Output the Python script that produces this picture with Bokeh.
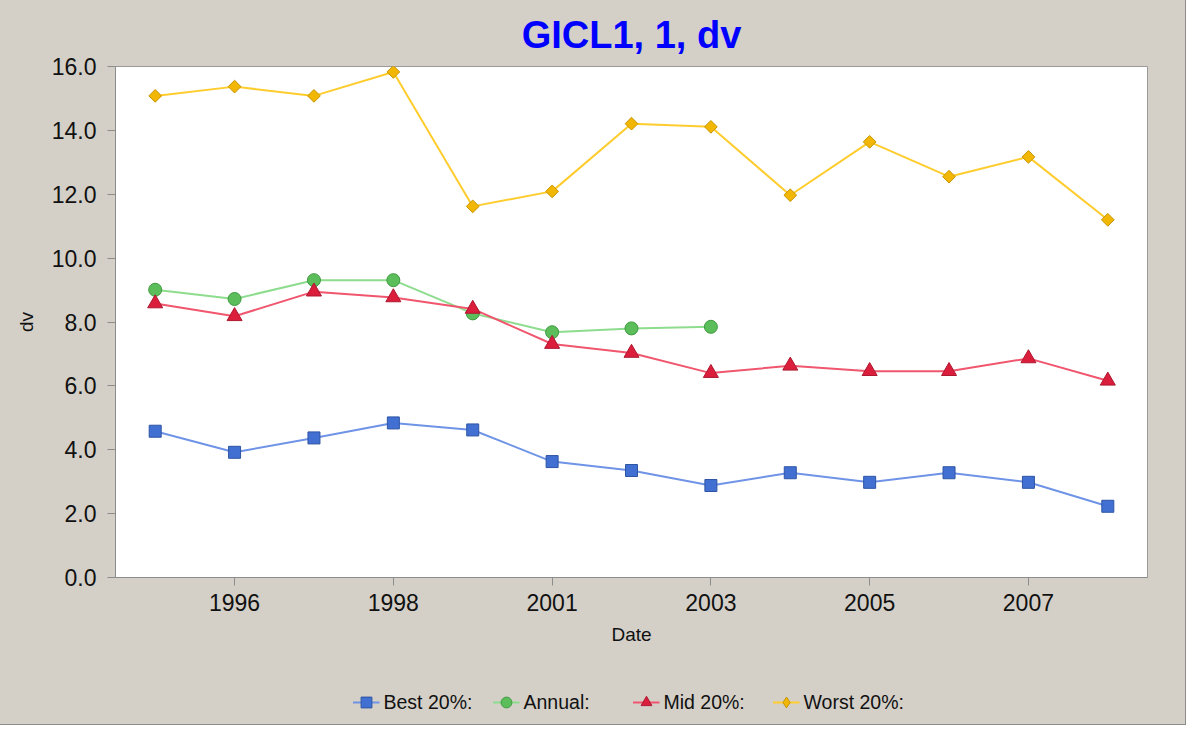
import numpy as np
from bokeh.plotting import figure
from bokeh.layouts import column
from bokeh.models import (ColumnDataSource, FixedTicker, NumeralTickFormatter,
                          Legend, LegendItem, Title, Range1d)
from bokeh.embed import file_html
from bokeh.resources import INLINE

years = ["1995", "1996", "1997", "1998", "1999", "2001", "2002",
         "2003", "2004", "2005", "2006", "2007", "2008"]
best = [4.58, 3.92, 4.37, 4.84, 4.62, 3.63, 3.35, 2.88, 3.28, 2.98, 3.28, 2.98, 2.23]
annual = [9.01, 8.72, 9.31, 9.31, 8.27, 7.68, 7.80, 7.85]
mid = [8.58, 8.18, 8.95, 8.77, 8.41, 7.31, 7.03, 6.40, 6.63, 6.46, 6.46, 6.86, 6.16]
worst = [15.08, 15.37, 15.08, 15.83, 11.62, 12.09, 14.21, 14.11, 11.97, 13.64, 12.55, 13.17, 11.20]
shown_ticks = [1, 3, 5, 7, 9, 11]
y_ticks = [0, 2, 4, 6, 8, 10, 12, 14, 16]

FONT = "Liberation Sans"
BG = "#D4D0C8"

p = figure(width=1185, height=666, output_backend="svg", toolbar_location=None,
           x_range=Range1d(-0.5, 12.5), y_range=Range1d(0, 16),
           min_border_left=115, min_border_right=38, min_border_top=66,
           min_border_bottom=89)
p.border_fill_color = BG
p.background_fill_color = "white"
p.outline_line_color = "#9a9a9a"
p.outline_line_width = 1
p.xgrid.visible = False
p.ygrid.visible = False

title = Title(text="GICL1, 1, dv", align="center", text_font=FONT,
              text_font_size="38px", text_font_style="bold",
              text_color="#0000FF", standoff=21)
p.add_layout(title, "above")

# label, values, marker, size, angle, legend marker, line, fill, edge
series = [
    ("Best 20%:", best, "square", 12, 0.0, "square", "#6F93E6", "#4170D2", "#2E54A4"),
    ("Annual:", annual, "circle", 13, 0.0, "circle", "#8EDC8E", "#5BBE5B", "#3E9A3E"),
    ("Mid 20%:", mid, "triangle", 15, 0.0, "triangle", "#F0566E", "#DA1E3C", "#AE1830"),
    ("Worst 20%:", worst, "square", 9, np.pi / 4, "diamond", "#FFCC2E", "#F2B705", "#C79500"),
]

# legend strip below the chart (same styles as the plotted series)
p2 = figure(width=1185, height=58, output_backend="svg", toolbar_location=None,
            x_range=Range1d(0, 1), y_range=Range1d(0, 1),
            x_axis_location=None, y_axis_location=None,
            min_border_left=115, min_border_right=38, min_border_top=14,
            min_border_bottom=0)
p2.border_fill_alpha = 0
p2.background_fill_alpha = 0
p2.outline_line_color = None
p2.xgrid.visible = False
p2.ygrid.visible = False

items = []
for label, vals, marker, size, angle, lmarker, lc, fc, ec in series:
    src = ColumnDataSource(dict(x=list(range(len(vals))), y=vals))
    p.line("x", "y", source=src, line_color=lc, line_width=2)
    p.scatter("x", "y", source=src, marker=marker, size=size, angle=angle,
              fill_color=fc, line_color=ec, line_width=1)
    # key-only renderers: their points lie outside the strip's range
    lr = p2.line(x=[5, 6], y=[5, 5], line_color=lc, line_width=2)
    sr = p2.scatter(x=[5], y=[5], marker=lmarker, size=size,
                    fill_color=fc, line_color=ec, line_width=1)
    items.append(LegendItem(label=label, renderers=[lr, sr]))

legend = Legend(items=items, orientation="horizontal", location="center",
                label_text_font=FONT, label_text_font_size="19.5px",
                label_text_color="#111111", label_width=106, glyph_width=27,
                glyph_height=27, label_standoff=4, spacing=3, padding=0,
                margin=0, background_fill_alpha=0, border_line_alpha=0)
p2.add_layout(legend, "center")

xa = p.xaxis[0]
xa.ticker = FixedTicker(ticks=shown_ticks)
xa.major_label_overrides = {i: years[i] for i in shown_ticks}
xa.axis_label = "Date"
ya = p.yaxis[0]
ya.ticker = FixedTicker(ticks=y_ticks)
ya.formatter = NumeralTickFormatter(format="0.0")
ya.axis_label = "dv"

for ax in (xa, ya):
    ax.axis_line_color = "#8c8c8c"
    ax.major_tick_line_color = "#8c8c8c"
    ax.major_tick_out = 8
    ax.major_tick_in = 0
    ax.minor_tick_line_color = None
    ax.major_label_text_font = FONT
    ax.major_label_text_font_size = "23px"
    ax.major_label_text_color = "#111111"
    ax.axis_label_text_font = FONT
    ax.axis_label_text_font_size = "19px"
    ax.axis_label_text_font_style = "normal"
    ax.axis_label_text_color = "#111111"
xa.major_label_standoff = 8
xa.axis_label_standoff = 10
ya.major_label_standoff = 11
ya.axis_label_standoff = 12

layout = column(p, p2, spacing=0,
                styles={"outline": "1px solid #8c8c8c", "background-color": BG})
open("out.html", "w").write(file_html(layout, INLINE))
